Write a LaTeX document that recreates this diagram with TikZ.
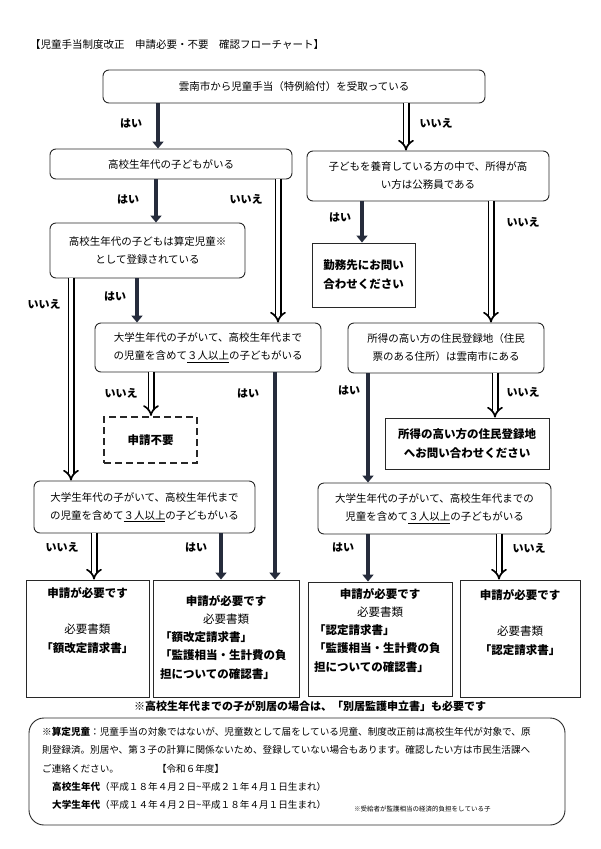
\documentclass[tikz,border=0pt]{standalone}
\usepackage{fontspec}
\setmainfont{Noto Sans CJK JP}
\usetikzlibrary{arrows.meta}
\definecolor{yescol}{RGB}{38,44,60}
\definecolor{boxline}{RGB}{40,40,40}
\begin{document}
\begin{tikzpicture}[x=1pt,y=-1pt,
	question/.style={draw=boxline,line width=0.9pt,rounded corners=6pt,align=center,font=\fontsize{10.5}{18}\selectfont,inner sep=0pt},
	answer/.style={draw=boxline,line width=0.9pt,align=center,font=\bfseries\fontsize{11.5}{19}\selectfont,inner sep=0pt},
	result/.style={draw=boxline,line width=0.9pt,inner sep=0pt},
	yes/.style={draw=yescol,line width=3.6pt,-{Triangle[length=7pt,width=11pt]}},
	no/.style={draw=black,double=white,double distance=3.6pt,line width=1.7pt,-{Implies}},
	lab/.style={font=\bfseries\fontsize{11}{13}\selectfont},
	doc/.style={anchor=north,inner sep=0pt,font=\fontsize{11.5}{18.5}\selectfont}]
		\useasboundingbox (0,0) rectangle (600,849);
		%titre
		\node (title) at(30,45) [anchor=west,inner sep=0pt,font=\fontsize{10.5}{12}\selectfont] {【児童手当制度改正　申請必要・不要　確認フローチャート】} ;
		%questions
		\node (node 1) at(294,86.5) [question,minimum width=382,minimum height=33] {雲南市から児童手当（特例給付）を受取っている} ;
		\node (node 2) at(171,164) [question,minimum width=242,minimum height=30] {高校生年代の子どもがいる} ;
		\node (node 3) at(428,176) [question,minimum width=242,minimum height=50] {子どもを養育している方の中で、所得が高\\い方は公務員である} ;
		\node (node 4) at(147.5,250.5) [question,minimum width=195,minimum height=55] {高校生年代の子どもは算定児童※\\として登録されている} ;
		\node (node 5) at(363.5,275) [answer,sharp corners,minimum width=103,minimum height=64] {勤務先にお問い\\合わせください} ;
		\node (node 6) at(208,347.5) [question,minimum width=226,minimum height=49] {大学生年代の子がいて、高校生年代まで\\の児童を含めて\underline{３人以上}の子どもがいる} ;
		\node (node 7) at(446,348) [question,minimum width=196,minimum height=50] {所得の高い方の住民登録地（住民\\票のある住所）は雲南市にある} ;
		\node (node 8) at(150.5,440) [answer,dashed,line width=2.2pt,dash pattern=on 7pt off 4pt,minimum width=93,minimum height=46] {申請不要} ;
		\node (node 9) at(467,443.5) [answer,minimum width=164,minimum height=51] {所得の高い方の住民登録地\\へお問い合わせください} ;
		\node (node 10) at(144.5,507) [question,minimum width=221,minimum height=52] {大学生年代の子がいて、高校生年代まで\\の児童を含めて\underline{３人以上}の子どもがいる} ;
		\node (node 11) at(434.5,508.5) [question,minimum width=233,minimum height=51] {大学生年代の子がいて、高校生年代までの\\児童を含めて\underline{３人以上}の子どもがいる} ;
		%resultats
		\node (node 12) at(87.5,638.5) [result,minimum width=123,minimum height=117] {} ;
		\node (node 13) at(226,638.5) [result,minimum width=146,minimum height=117] {} ;
		\node (node 14) at(380,639) [result,minimum width=144,minimum height=114] {} ;
		\node (node 15) at(520,638.5) [result,minimum width=120,minimum height=117] {} ;
		\node at(87.5,587) [doc,align=center] {\textbf{申請が必要です}\\[18pt]必要書類\\\textbf{「額改定請求書」}} ;
		\node at(226,595) [doc,align=center] {\textbf{申請が必要です}\\必要書類} ;
		\node at(160,631) [doc,anchor=north west,align=left] {\textbf{「額改定請求書」}\\\textbf{「監護相当・生計費の負}\\\textbf{担についての確認書」}} ;
		\node at(380,588) [doc,align=center] {\textbf{申請が必要です}\\必要書類} ;
		\node at(314,624) [doc,anchor=north west,align=left] {\textbf{「認定請求書」}\\\textbf{「監護相当・生計費の負}\\\textbf{担についての確認書」}} ;
		\node at(520,589) [doc,align=center] {\textbf{申請が必要です}\\[18pt]必要書類\\\textbf{「認定請求書」}} ;
		\node (note) at(310,706) [font=\bfseries\fontsize{11}{13}\selectfont] {※高校生年代までの子が別居の場合は、「別居監護申立書」も必要です} ;
		%encadre du bas
		\node (node 16) at(297,771.5) [result,rounded corners=15pt,minimum width=536,minimum height=107] {} ;
		\node at(42,727) [anchor=north west,inner sep=0pt,align=left,font=\fontsize{9.6}{18.3}\selectfont]
			{\textbf{※算定児童}：児童手当の対象ではないが、児童数として届をしている児童、制度改正前は高校生年代が対象で、原\\
			則登録済。別居や、第３子の計算に関係ないため、登録していない場合もあります。確認したい方は市民生活課へ\\
			ご連絡ください。\hspace{38pt}【令和６年度】\\
			\hspace{10pt}\textbf{高校生年代}（平成１８年４月２日\textasciitilde 平成２１年４月１日生まれ）\\
			\hspace{10pt}\textbf{大学生年代}（平成１４年４月２日\textasciitilde 平成１８年４月１日生まれ）} ;
		\node at(354,809) [anchor=west,inner sep=0pt,font=\fontsize{6.5}{8}\selectfont] {※受給者が監護相当の経済的負担をしている子} ;
		%colonnes des fleches
		\foreach \n/\x in {a/158,b/406,c/156,d/278,e/362,f/491,g/71,h/137,i/151,j/275,k/368,l/495,m/94,n/221,o/499}
			\coordinate (col \n) at (\x,0);
		\draw[yes] (node 1.south -| col a) -- (node 2.north -| col a);
		\draw[no] (node 1.south -| col b) -- (node 3.north -| col b);
		\draw[yes] (node 2.south -| col c) -- (node 4.north -| col c);
		\draw[no] (node 2.south -| col d) -- (node 6.north -| col d);
		\draw[yes] (node 3.south -| col e) -- (node 5.north -| col e);
		\draw[no] (node 3.south -| col f) -- (node 7.north -| col f);
		\draw[no] (node 4.south -| col g) -- (node 10.north -| col g);
		\draw[yes] (node 4.south -| col h) -- (node 6.north -| col h);
		\draw[no] (node 6.south -| col i) -- (node 8.north -| col i);
		\draw[yes] (node 6.south -| col j) -- (node 13.north -| col j);
		\draw[yes] (node 7.south -| col k) -- (node 11.north -| col k);
		\draw[no] (node 7.south -| col l) -- (node 9.north -| col l);
		\draw[no] (node 10.south -| col m) -- (node 12.north -| col m);
		\draw[yes] (node 10.south -| col n) -- (node 13.north -| col n);
		\draw[yes] (node 11.south -| col k) -- (node 14.north -| col k);
		\draw[no] (node 11.south -| col o) -- (node 15.north -| col o);
		%etiquettes
		\foreach \x/\y/\t in {131/123/はい,436/123/いいえ,128/199/はい,246/199/いいえ,340/217/はい,523/222/いいえ,44/304/いいえ,115/296/はい,121/393/いいえ,248/393/はい,349/390/はい,523/392/いいえ,62/547/いいえ,196/547/はい,343/547/はい,529/548/いいえ}
			\node[lab] at(\x,\y) {\t};
	\end{tikzpicture}
\end{document}
